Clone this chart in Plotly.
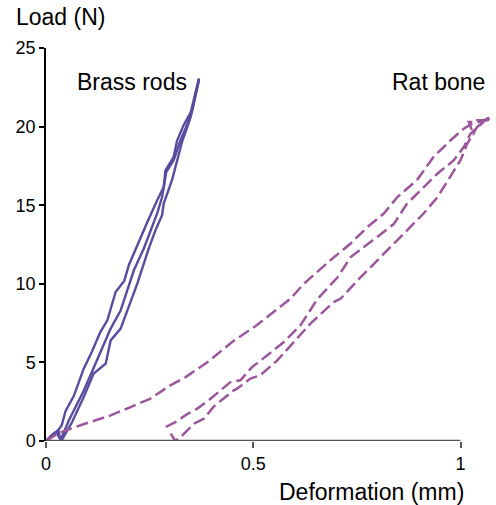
import plotly.graph_objects as go

# ---- data ----
brass_a_x = [0, 0.015, 0.03, 0.038, 0.047, 0.067, 0.091, 0.111, 0.131, 0.148, 0.168, 0.189, 0.2, 0.216, 0.244, 0.268, 0.284, 0.288, 0.308, 0.316, 0.332, 0.349, 0.369]
brass_a_y = [0, 0.4, 0.7, 1.0, 1.9, 2.86, 4.6, 5.7, 6.93, 7.68, 9.48, 10.2, 11.2, 12.2, 13.9, 15.3, 16.16, 17.2, 18.07, 19.1, 20.08, 20.9, 23.05]
brass_b_x = [0, 0.02, 0.03, 0.035, 0.055, 0.091, 0.119, 0.156, 0.18, 0.212, 0.236, 0.268, 0.28, 0.29, 0.308, 0.324, 0.34, 0.353, 0.369]
brass_b_y = [0, 0.5, 0.65, 0.05, 1.3, 3.2, 4.9, 7.15, 8.3, 10.86, 12.25, 14.46, 15.5, 17.1, 17.86, 19.1, 20.08, 21.04, 22.93]
brass_c_x = [0, 0.025, 0.037, 0.063, 0.091, 0.115, 0.144, 0.156, 0.18, 0.22, 0.248, 0.264, 0.28, 0.284, 0.304, 0.312, 0.329, 0.349, 0.369]
brass_c_y = [0, 0.55, 0.0, 1.21, 2.8, 4.29, 4.92, 6.4, 7.15, 10.0, 12.25, 13.4, 14.36, 15.1, 16.6, 17.4, 19.1, 20.6, 23.06]

rat_a_x = [0, 0.03, 0.083, 0.131, 0.156, 0.204, 0.252, 0.3, 0.336, 0.393, 0.449, 0.505, 0.574, 0.59, 0.622, 0.686, 0.735, 0.775, 0.815, 0.847, 0.895, 0.935, 0.976, 1.008, 1.04, 1.068, 1.072, 1.05]
rat_a_y = [0, 0.5, 1.0, 1.42, 1.63, 2.16, 2.7, 3.54, 4.05, 5.08, 6.3, 7.3, 8.74, 9.06, 10.0, 11.5, 12.56, 13.6, 14.47, 15.5, 16.6, 18.07, 19.13, 19.87, 20.4, 20.4, 20.6, 20.3]
rat_b_x = [0.289, 0.312, 0.34, 0.365, 0.393, 0.429, 0.445, 0.469, 0.497, 0.534, 0.574, 0.614, 0.654, 0.703, 0.735, 0.799, 0.839, 0.871, 0.904, 0.944, 0.984, 1.008, 1.024, 1.056, 1.02, 1.032]
rat_b_y = [0.89, 1.2, 1.7, 2.06, 2.6, 3.43, 3.75, 3.86, 4.7, 5.45, 6.3, 7.36, 9.0, 10.4, 11.7, 12.98, 13.8, 15.1, 15.95, 17.0, 17.86, 18.7, 19.55, 20.3, 20.3, 19.45]
rat_c_x = [0.301, 0.312, 0.329, 0.357, 0.381, 0.405, 0.453, 0.461, 0.493, 0.517, 0.558, 0.598, 0.638, 0.694, 0.711, 0.751, 0.791, 0.831, 0.871, 0.911, 0.944, 0.976, 1.0, 1.016, 1.04, 1.064, 1.07]
rat_c_y = [0.47, 0.0, 0.36, 1.1, 1.42, 2.2, 3.22, 3.33, 3.97, 4.18, 5.13, 6.3, 7.47, 8.84, 9.06, 10.2, 11.28, 12.34, 13.4, 14.47, 15.5, 16.8, 17.86, 18.9, 19.97, 20.5, 20.4]

x_ticks = [0, 0.5, 1]
x_tick_labels = ["0", "0.5", "1"]
y_ticks = [0, 5, 10, 15, 20, 25]
y_tick_labels = ["0", "5", "10", "15", "20", "25"]

BRASS = "#5a4b9e"
RAT = "#9c579c"
FONT = "Liberation Sans"
LABEL_SIZE = 23
TICK_SIZE = 18

fig = go.Figure()
for xs, ys in [(brass_a_x, brass_a_y), (brass_b_x, brass_b_y), (brass_c_x, brass_c_y)]:
    fig.add_trace(go.Scatter(x=xs, y=ys, mode="lines",
                             line=dict(color=BRASS, width=2.4), showlegend=False, hoverinfo="skip"))
for xs, ys in [(rat_a_x, rat_a_y), (rat_b_x, rat_b_y), (rat_c_x, rat_c_y)]:
    fig.add_trace(go.Scatter(x=xs, y=ys, mode="lines",
                             line=dict(color=RAT, width=2.5, dash="12px,5px"), showlegend=False, hoverinfo="skip"))

# x axis line only spans 0..1
fig.add_shape(type="line", xref="x", yref="y", x0=0, x1=1, y0=0, y1=0,
              line=dict(color="#555555", width=2.5), layer="above")

fig.update_layout(
    width=496, height=505,
    margin=dict(l=46, r=3, t=48, b=64),
    paper_bgcolor="white", plot_bgcolor="white",
    font=dict(family=FONT, color="black"),
    xaxis=dict(range=[0, 447 / 414.5], showgrid=False, zeroline=False, showline=False,
               tickmode="array", tickvals=x_ticks, ticktext=x_tick_labels,
               ticks="outside", ticklen=6, tickwidth=1.5, tickcolor="#555555",
               tickfont=dict(family=FONT, size=TICK_SIZE, color="black")),
    yaxis=dict(range=[0, 25], showgrid=False, zeroline=False, showline=True,
               linecolor="black", linewidth=1.5,
               tickmode="array", tickvals=y_ticks, ticktext=y_tick_labels,
               ticks="outside", ticklen=5, tickwidth=1.5, tickcolor="black",
               tickfont=dict(family=FONT, size=TICK_SIZE, color="black")),
    annotations=[
        dict(text="Load (N)", xref="paper", yref="paper", x=(14 - 46) / 447, y=(441 - 17) / 393,
             xanchor="left", yanchor="middle", showarrow=False, font=dict(family=FONT, size=LABEL_SIZE)),
        dict(text="Brass rods", xref="paper", yref="paper", x=(75 - 46) / 447, y=(441 - 82) / 393,
             xanchor="left", yanchor="middle", showarrow=False, font=dict(family=FONT, size=LABEL_SIZE)),
        dict(text="Rat bone", xref="paper", yref="paper", x=(487 - 46) / 447, y=(441 - 82) / 393,
             xanchor="right", yanchor="middle", showarrow=False, font=dict(family=FONT, size=LABEL_SIZE)),
        dict(text="Deformation (mm)", xref="paper", yref="paper", x=(466 - 46) / 447, y=(441 - 492) / 393,
             xanchor="right", yanchor="middle", showarrow=False, font=dict(family=FONT, size=LABEL_SIZE)),
    ],
)

fig.write_html("out.html")
